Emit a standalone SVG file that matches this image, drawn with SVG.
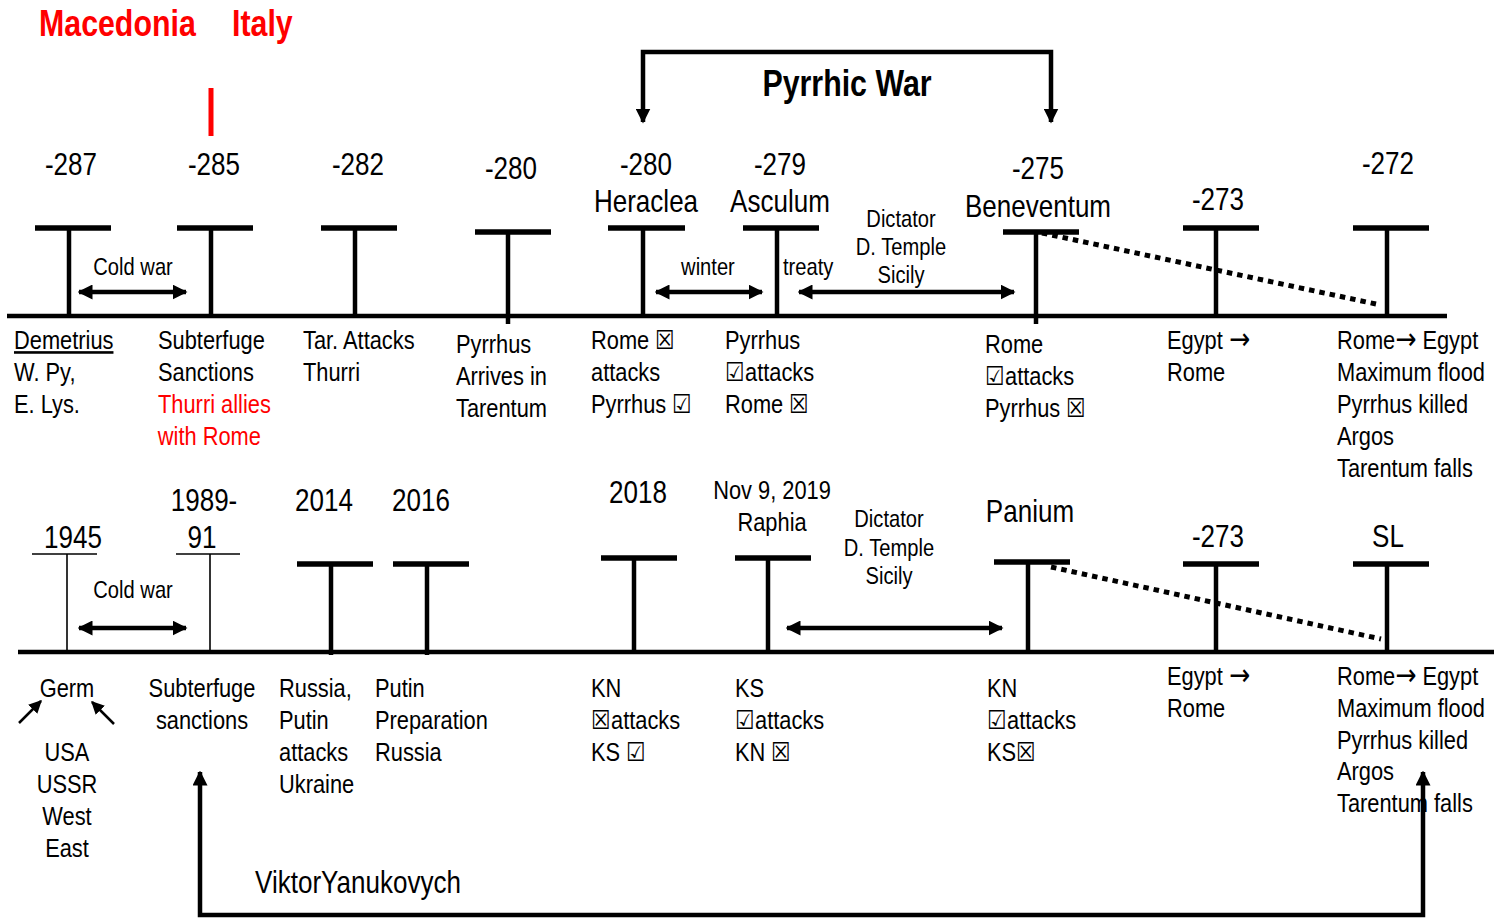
<svg xmlns="http://www.w3.org/2000/svg" width="1512" height="919" viewBox="0 0 1512 919">
<style>
text{font-family:"Liberation Sans Narrow","Arial Narrow","Liberation Sans",Arial,sans-serif;fill:#000;transform-box:fill-box;transform-origin:0 50%;transform:scaleX(0.84)}
.b{font-size:26px}
.y{font-size:31px;text-anchor:middle;transform-origin:50% 50%}
.s{font-size:24px}
.sm{font-size:24px;text-anchor:middle;transform-origin:50% 50%}
.m{text-anchor:middle;transform-origin:50% 50%}
.red{fill:#ff0000}
.t{font-size:37px;font-weight:bold;transform:scaleX(0.82)}
.ar{font-family:"DejaVu Sans",sans-serif;font-size:30px}
.ln{stroke:#000;stroke-width:4.5;fill:none}
.bar{stroke:#000;stroke-width:5.5;fill:none}
.thin{stroke:#000;stroke-width:1.6;fill:none}
.dot{stroke:#000;stroke-width:5;fill:none;stroke-dasharray:5.5 5}
</style>
<defs>
<marker id="ah" viewBox="0 0 10 10" refX="9" refY="5" markerWidth="15" markerHeight="15" markerUnits="userSpaceOnUse" orient="auto-start-reverse"><path d="M0,0 L10,5 L0,10 z" fill="#000"/></marker>
<marker id="ahs" viewBox="0 0 10 10" refX="9" refY="5" markerWidth="13" markerHeight="13" markerUnits="userSpaceOnUse" orient="auto-start-reverse"><path d="M0,0 L10,5 L0,10 z" fill="#000"/></marker>
</defs>

<g id="title">
<text class="t red" x="39" y="36">Macedonia</text>
<text class="t red" x="232" y="36">Italy</text>
<line x1="211" y1="88" x2="211" y2="136" stroke="#ff0000" stroke-width="5"/>
</g>

<g id="pyrrhic-war">
<text class="t m" x="847" y="96" style="transform-origin:50% 50%">Pyrrhic War</text>
</g>

<g id="connectors">
<path class="ln" d="M643,122 V52 H1051 V122" marker-start="url(#ah)" marker-end="url(#ah)"/>
<line class="ln" x1="7" y1="316" x2="1447" y2="316"/>
<line class="ln" x1="18" y1="652" x2="1494" y2="652"/>
<line class="ln" x1="79" y1="292" x2="186" y2="292" marker-start="url(#ah)" marker-end="url(#ah)"/>
<line class="ln" x1="656" y1="292" x2="762" y2="292" marker-start="url(#ah)" marker-end="url(#ah)"/>
<line class="ln" x1="799" y1="292" x2="1014" y2="292" marker-start="url(#ah)" marker-end="url(#ah)"/>
<line class="dot" x1="1042" y1="233" x2="1376" y2="304"/>
<line class="ln" x1="79" y1="628" x2="186" y2="628" marker-start="url(#ah)" marker-end="url(#ah)"/>
<line class="ln" x1="787" y1="628" x2="1002" y2="628" marker-start="url(#ah)" marker-end="url(#ah)"/>
<line class="dot" x1="1051" y1="567" x2="1381" y2="639"/>
<line stroke="#000" stroke-width="2.5" x1="19" y1="723" x2="41" y2="701" marker-end="url(#ahs)"/>
<line stroke="#000" stroke-width="2.5" x1="114" y1="724" x2="92" y2="702" marker-end="url(#ahs)"/>
<path class="ln" d="M200,772 V915 H1423 V772" marker-start="url(#ah)" marker-end="url(#ah)"/>
</g>

<!-- top timeline -->
<g id="n-287">
<text class="y" x="71" y="175">-287</text>
<line class="bar" x1="35" y1="228" x2="111" y2="228"/>
<line class="ln" x1="69" y1="228" x2="69" y2="318"/>
<text class="b" x="14" y="349" text-decoration="underline">Demetrius</text>
<text class="b" x="14" y="381">W. Py,</text>
<text class="b" x="14" y="413">E. Lys.</text>
<text class="sm" x="133" y="275">Cold war</text>
</g>
<g id="n-285">
<text class="y" x="214" y="175">-285</text>
<line class="bar" x1="177" y1="228" x2="253" y2="228"/>
<line class="ln" x1="211" y1="228" x2="211" y2="318"/>
<text class="b" x="158" y="349">Subterfuge</text>
<text class="b" x="158" y="381">Sanctions</text>
<text class="b red" x="158" y="413">Thurri allies</text>
<text class="b red" x="158" y="445">with Rome</text>
</g>
<g id="n-282">
<text class="y" x="358" y="175">-282</text>
<line class="bar" x1="321" y1="228" x2="397" y2="228"/>
<line class="ln" x1="355" y1="228" x2="355" y2="318"/>
<text class="b" x="303" y="349">Tar. Attacks</text>
<text class="b" x="303" y="381">Thurri</text>
</g>
<g id="n-280a">
<text class="y" x="511" y="179">-280</text>
<line class="bar" x1="475" y1="232" x2="551" y2="232"/>
<line class="ln" x1="508" y1="232" x2="508" y2="324"/>
<text class="b" x="456" y="353">Pyrrhus</text>
<text class="b" x="456" y="385">Arrives in</text>
<text class="b" x="456" y="417">Tarentum</text>
</g>
<g id="n-280b">
<text class="y" x="646" y="175">-280</text>
<text class="y" x="646" y="212">Heraclea</text>
<line class="bar" x1="608" y1="228" x2="685" y2="228"/>
<line class="ln" x1="643" y1="228" x2="643" y2="318"/>
<text class="b" x="591" y="349">Rome ☒</text>
<text class="b" x="591" y="381">attacks</text>
<text class="b" x="591" y="413">Pyrrhus ☑</text>
<text class="sm" x="708" y="275">winter</text>
</g>
<g id="n-279">
<text class="y" x="780" y="175">-279</text>
<text class="y" x="780" y="212">Asculum</text>
<line class="bar" x1="743" y1="228" x2="819" y2="228"/>
<line class="ln" x1="777" y1="228" x2="777" y2="318"/>
<text class="b" x="725" y="349">Pyrrhus</text>
<text class="b" x="725" y="381">☑attacks</text>
<text class="b" x="725" y="413">Rome ☒</text>
<text class="s" x="783" y="275">treaty</text>
<text class="sm" x="901" y="227">Dictator</text>
<text class="sm" x="901" y="255">D. Temple</text>
<text class="sm" x="901" y="283">Sicily</text>
</g>
<g id="n-275">
<text class="y" x="1038" y="179">-275</text>
<text class="y" x="1038" y="217">Beneventum</text>
<line class="bar" x1="1003" y1="232" x2="1079" y2="232"/>
<line class="ln" x1="1036" y1="232" x2="1036" y2="324"/>
<text class="b" x="985" y="353">Rome</text>
<text class="b" x="985" y="385">☑attacks</text>
<text class="b" x="985" y="417">Pyrrhus ☒</text>
</g>
<g id="n-273">
<text class="y" x="1218" y="210">-273</text>
<line class="bar" x1="1183" y1="228" x2="1259" y2="228"/>
<line class="ln" x1="1216" y1="228" x2="1216" y2="318"/>
<text class="b" x="1167" y="349">Egypt <tspan class="ar">→</tspan></text>
<text class="b" x="1167" y="381">Rome</text>
</g>
<g id="n-272">
<text class="y" x="1388" y="174">-272</text>
<line class="bar" x1="1353" y1="228" x2="1429" y2="228"/>
<line class="ln" x1="1387" y1="228" x2="1387" y2="318"/>
<text class="b" x="1337" y="349">Rome<tspan class="ar">→</tspan> Egypt</text>
<text class="b" x="1337" y="381">Maximum flood</text>
<text class="b" x="1337" y="413">Pyrrhus killed</text>
<text class="b" x="1337" y="445">Argos</text>
<text class="b" x="1337" y="477">Tarentum falls</text>
</g>

<!-- bottom timeline -->
<g id="n1945">
<text class="y" x="73" y="548">1945</text>
<line class="thin" x1="32" y1="554" x2="97" y2="554"/>
<line class="thin" x1="67" y1="554" x2="67" y2="652"/>
<text class="b m" x="67" y="697">Germ</text>
<text class="b m" x="67" y="761">USA</text>
<text class="b m" x="67" y="793">USSR</text>
<text class="b m" x="67" y="825">West</text>
<text class="b m" x="67" y="857">East</text>
<text class="sm" x="133" y="598">Cold war</text>
</g>
<g id="n1989">
<text class="y" x="204" y="511">1989-</text>
<text class="y" x="202" y="548">91</text>
<line class="thin" x1="176" y1="554" x2="240" y2="554"/>
<line class="thin" x1="210" y1="554" x2="210" y2="652"/>
<text class="b m" x="202" y="697">Subterfuge</text>
<text class="b m" x="202" y="729">sanctions</text>
</g>
<g id="n2014">
<text class="y" x="324" y="511">2014</text>
<line class="bar" x1="297" y1="564" x2="373" y2="564"/>
<line class="ln" x1="331" y1="564" x2="331" y2="655"/>
<text class="b" x="279" y="697">Russia,</text>
<text class="b" x="279" y="729">Putin</text>
<text class="b" x="279" y="761">attacks</text>
<text class="b" x="279" y="793">Ukraine</text>
</g>
<g id="n2016">
<text class="y" x="421" y="511">2016</text>
<line class="bar" x1="393" y1="564" x2="469" y2="564"/>
<line class="ln" x1="427" y1="564" x2="427" y2="655"/>
<text class="b" x="375" y="697">Putin</text>
<text class="b" x="375" y="729">Preparation</text>
<text class="b" x="375" y="761">Russia</text>
</g>
<g id="n2018">
<text class="y" x="638" y="503">2018</text>
<line class="bar" x1="601" y1="558" x2="677" y2="558"/>
<line class="ln" x1="634" y1="558" x2="634" y2="652"/>
<text class="b" x="591" y="697">KN</text>
<text class="b" x="591" y="729">☒attacks</text>
<text class="b" x="591" y="761">KS ☑</text>
</g>
<g id="n2019">
<text class="b m" x="772" y="499">Nov 9, 2019</text>
<text class="b m" x="772" y="531">Raphia</text>
<line class="bar" x1="735" y1="558" x2="811" y2="558"/>
<line class="ln" x1="768" y1="558" x2="768" y2="652"/>
<text class="b" x="735" y="697">KS</text>
<text class="b" x="735" y="729">☑attacks</text>
<text class="b" x="735" y="761">KN ☒</text>
<text class="sm" x="889" y="527">Dictator</text>
<text class="sm" x="889" y="556">D. Temple</text>
<text class="sm" x="889" y="584">Sicily</text>
</g>
<g id="panium">
<text class="y" x="1030" y="522">Panium</text>
<line class="bar" x1="994" y1="562" x2="1070" y2="562"/>
<line class="ln" x1="1028" y1="562" x2="1028" y2="652"/>
<text class="b" x="987" y="697">KN</text>
<text class="b" x="987" y="729">☑attacks</text>
<text class="b" x="987" y="761">KS☒</text>
</g>
<g id="b-273">
<text class="y" x="1218" y="547">-273</text>
<line class="bar" x1="1183" y1="564" x2="1259" y2="564"/>
<line class="ln" x1="1216" y1="564" x2="1216" y2="652"/>
<text class="b" x="1167" y="685">Egypt <tspan class="ar">→</tspan></text>
<text class="b" x="1167" y="717">Rome</text>
</g>
<g id="sl">
<text class="y" x="1388" y="547">SL</text>
<line class="bar" x1="1353" y1="564" x2="1429" y2="564"/>
<line class="ln" x1="1387" y1="564" x2="1387" y2="652"/>
<text class="b" x="1337" y="685">Rome<tspan class="ar">→</tspan> Egypt</text>
<text class="b" x="1337" y="717">Maximum flood</text>
<text class="b" x="1337" y="749">Pyrrhus killed</text>
<text class="b" x="1337" y="780">Argos</text>
<text class="b" x="1337" y="812">Tarentum falls</text>
</g>
<g id="yanukovych">
<text class="b" x="255" y="893" style="font-size:31px">ViktorYanukovych</text>
</g>
</svg>
